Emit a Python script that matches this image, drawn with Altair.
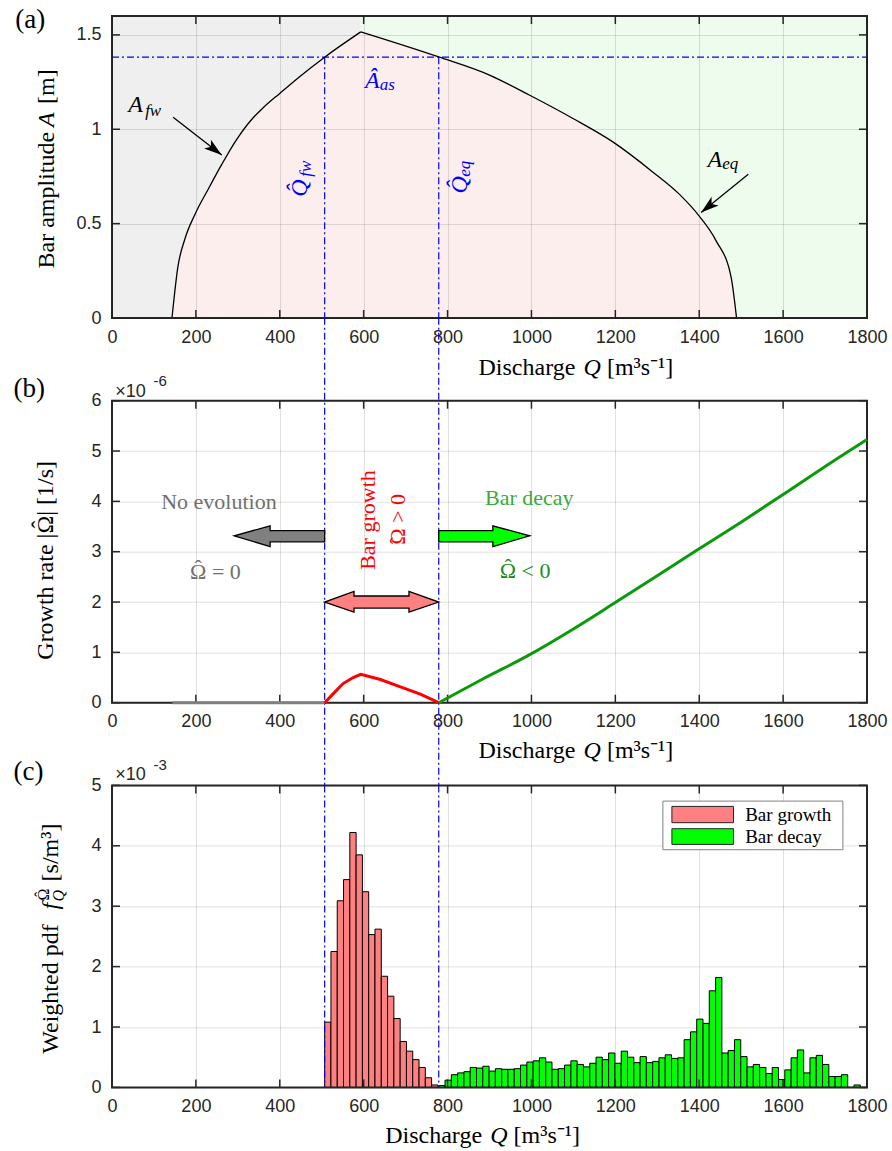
import altair as alt
import pandas as pd

SERIF = "Liberation Serif"
SANS = "Liberation Sans"
DARK = "#262626"
BLUE = "#0000ff"
W, H = 755, 302
XDOM = [0, 1800]
DOM_A = [0, 1.6]
DOM_B = [0, 6]
DOM_C = [0, 5]
HAT = "\u02c6"

# tick positions
q_ticks = [0, 200, 400, 600, 800, 1000, 1200, 1400, 1600, 1800]
amp_ticks = [0, 0.5, 1, 1.5]
rate_ticks = [0, 1, 2, 3, 4, 5, 6]
pdf_ticks = [0, 1, 2, 3, 4, 5]

# characteristic discharges and amplitude
Q_FW = 507
Q_EQ = 779
A_AS = 1.382

# (a) bar amplitude: free-bar branch (rising) and equilibrium branch (falling)
afw_q = [143, 157, 174, 198, 230, 262, 297, 335, 361, 400, 448, 507, 593]
afw_a = [0, 0.27, 0.42, 0.55, 0.685, 0.815, 0.945, 1.057, 1.115, 1.19, 1.28, 1.382, 1.516]
aeq_q = [593, 779, 900, 996, 1099, 1194, 1289, 1353, 1400, 1440, 1476, 1489]
aeq_a = [1.516, 1.383, 1.287, 1.18, 1.057, 0.933, 0.774, 0.655, 0.54, 0.41, 0.217, 0]

# (b) growth rate |Omega| in 1e-6 1/s
none_q = [144, 507]
none_v = [0, 0]
grow_q = [507, 530, 551, 575, 593, 640, 686, 735, 779]
grow_v = [0, 0.2, 0.38, 0.5, 0.565, 0.46, 0.32, 0.17, 0]
decay_q = [779, 885, 996, 1099, 1198, 1297, 1396, 1496, 1599, 1694, 1800]
decay_v = [0, 0.475, 0.955, 1.46, 1.98, 2.506, 3.037, 3.567, 4.13, 4.66, 5.23]

# (c) weighted pdf in 1e-3 s/m3, bins of 15 m3/s
BIN = 15
pdf_growth = [1.08, 2.25, 3.09, 3.44, 4.22, 3.85, 3.24, 2.53, 2.62, 1.84, 1.51, 1.14,
              0.76, 0.60, 0.46, 0.33, 0.16, 0.04]
pdf_decay = [0.03, 0.12, 0.21, 0.24, 0.26, 0.33, 0.32, 0.35, 0.27, 0.31, 0.30, 0.30,
             0.31, 0.37, 0.42, 0.44, 0.49, 0.42, 0.30, 0.31, 0.37, 0.44, 0.38, 0.34,
             0.40, 0.50, 0.46, 0.57, 0.40, 0.60, 0.50, 0.41, 0.51, 0.41, 0.43, 0.49,
             0.54, 0.48, 0.49, 0.79, 0.92, 1.13, 1.06, 1.60, 1.82, 0.57, 0.61, 0.79,
             0.51, 0.34, 0.38, 0.33, 0.23, 0.33, 0.13, 0.29, 0.49, 0.62, 0.24, 0.49,
             0.53, 0.38, 0.18, 0.18, 0.21, 0.0, 0.04]

HEAD = "M0,0L-2,-0.62L-1.5,0L-2,0.62Z"


class Panel:
    """Shared x/y encodings of one sub-plot, so that layers merge into one set of axes."""

    def __init__(self, dom, vticks, z=0):
        self.dom, self.vticks, self.z = dom, vticks, z

    def x(self, field="q"):
        return alt.X(f"{field}:Q", scale=alt.Scale(domain=XDOM, nice=False, zero=False),
                     axis=alt.Axis(values=q_ticks, format="d", title=None, zindex=self.z))

    def y(self, field):
        return alt.Y(f"{field}:Q", scale=alt.Scale(domain=self.dom, nice=False, zero=False),
                     axis=alt.Axis(values=self.vticks, format="~g", title=None, zindex=self.z))

    def text(self, text, q, v, size=24, color="black", style="normal", angle=0,
             align="left", baseline="alphabetic", font=SERIF, dx=0, dy=0):
        df = pd.DataFrame({"t": [text], "q": [q], "v": [v]})
        return alt.Chart(df).mark_text(font=font, fontSize=size, color=color, fontStyle=style,
                                       angle=angle, align=align, baseline=baseline,
                                       dx=dx, dy=dy).encode(x=self.x(), y=self.y("v"), text="t:N")

    def frame(self):
        bt = alt.Chart(pd.DataFrame({"q": q_ticks}))
        lt = alt.Chart(pd.DataFrame({"v": self.vticks}))
        tick = dict(color=DARK, strokeWidth=1.5)
        box = one().mark_rect(fillOpacity=0, stroke=DARK, strokeWidth=2).encode(
            x=alt.value(0), x2=alt.value(W), y=alt.value(0), y2=alt.value(H))
        return [
            bt.mark_rule(**tick).encode(x=self.x(), y=alt.value(H), y2=alt.value(H - 8)),
            bt.mark_rule(**tick).encode(x=self.x(), y=alt.value(0), y2=alt.value(8)),
            lt.mark_rule(**tick).encode(y=self.y("v"), x=alt.value(0), x2=alt.value(8)),
            lt.mark_rule(**tick).encode(y=self.y("v"), x=alt.value(W), x2=alt.value(W - 8)),
            box,
        ]


def one(text=""):
    return alt.Chart(pd.DataFrame({"t": [text]}))


def ptext(text, x, y, size=24, color="black", style="normal", angle=0,
          align="left", baseline="alphabetic", font=SERIF):
    return one(text).mark_text(font=font, fontSize=size, color=color, fontStyle=style,
                               angle=angle, align=align, baseline=baseline).encode(
        x=alt.value(x), y=alt.value(y), text="t:N")


def x_title(x0, y):
    return [ptext("Discharge", x0, y),
            ptext("Q", x0 + 105, y, style="italic"),
            ptext("[m³s⁻¹]", x0 + 128.4, y)]


dash = dict(color=BLUE, strokeWidth=1.2, strokeDash=[7, 3, 2, 3])
SMOOTH = "monotone"

# ---------------- panel (a) ----------------
pa = Panel(DOM_A, amp_ticks, z=1)
gray_df = pd.DataFrame({"q": [0] + afw_q, "lo": [0] + afw_a})
gray_df["hi"] = 1.6
green_df = pd.DataFrame({"q": aeq_q + [1800], "lo": aeq_a + [0]})
green_df["hi"] = 1.6
curve_df = pd.concat([
    pd.DataFrame({"q": afw_q, "a": afw_a, "branch": "fw"}),
    pd.DataFrame({"q": aeq_q, "a": aeq_a, "branch": "eq"}),
], ignore_index=True)
curve_df["zero"] = 0.0

bg_gray = alt.Chart(gray_df).mark_area(color="#efefef", interpolate=SMOOTH).encode(
    x=pa.x(), y=pa.y("lo"), y2="hi")
bg_green = alt.Chart(green_df).mark_area(color="#eefcee", interpolate=SMOOTH).encode(
    x=pa.x(), y=pa.y("lo"), y2="hi")
bg_pink = alt.Chart(curve_df).mark_area(color="#fdeeee", interpolate=SMOOTH).encode(
    x=pa.x(), y=pa.y("a"), y2="zero", detail="branch:N")
curve = alt.Chart(curve_df).mark_line(color="black", strokeWidth=1.3, interpolate=SMOOTH).encode(
    x=pa.x(), y=pa.y("a"), detail="branch:N")

hline = alt.Chart(pd.DataFrame({"q0": [0], "q1": [1800], "a": [A_AS]})).mark_rule(**dash).encode(
    x=pa.x("q0"), x2="q1", y=pa.y("a"))
vlines_a = alt.Chart(pd.DataFrame({"q": [Q_FW, Q_EQ], "top": [A_AS, A_AS], "bot": [0, 0]})).mark_rule(**dash).encode(
    x=pa.x(), y=pa.y("top"), y2="bot")

shaft_df = pd.DataFrame({"arrow": ["fw", "fw", "eq", "eq"],
                         "q": [145.7, 261.6, 1404.5, 1517],
                         "a": [1.064, 0.863, 0.559, 0.761]})
shafts = alt.Chart(shaft_df).mark_line(color="black", strokeWidth=1.3).encode(
    x=pa.x(), y=pa.y("a"), detail="arrow:N")
head_df = pd.DataFrame({"q": [261.6, 1404.5], "a": [0.863, 0.559], "ang": [37.8, 141.0]})
heads = alt.Chart(head_df).mark_point(shape=HEAD, filled=True, color="black", size=324, opacity=1).encode(
    x=pa.x(), y=pa.y("a"), angle=alt.Angle("ang:Q", scale=None))

labels_a = [
    pa.text("A", 38.6, 1.092, style="italic"),
    pa.text("fw", 79, 1.071, size=17, style="italic"),
    pa.text("A", 1419.5, 0.80, style="italic"),
    pa.text("eq", 1455, 0.787, size=17, style="italic"),
    pa.text("Â", 603, 1.216, style="italic", color=BLUE),
    pa.text("as", 638.6, 1.207, size=17, style="italic", color=BLUE),
    pa.text("Q\u0302", 464.8, 0.642, style="italic", color=BLUE, angle=270),
    pa.text("fw", 474.3, 0.748, size=17, style="italic", color=BLUE, angle=270),
    pa.text("Q\u0302", 845.7, 0.66, style="italic", color=BLUE, angle=270),
    pa.text("eq", 852.9, 0.748, size=17, style="italic", color=BLUE, angle=270),
]

titles_a = x_title(366.5, H + 57) + [
    ptext("Bar amplitude", -58.5, 252.5, angle=270),
    ptext("A", -58.5, 111, angle=270, style="italic"),
    ptext("[m]", -58.5, 88, angle=270),
    ptext("(a)", -96.8, 12.3, size=27),
]
anchor = one().mark_rect(color="white").encode(
    x=alt.value(-111.8), x2=alt.value(-104), y=alt.value(-15.7), y2=alt.value(-10))

panel_a = alt.layer(
    bg_gray, bg_green, bg_pink, hline, vlines_a, curve, shafts, heads,
    *labels_a, *titles_a, anchor, *pa.frame()
).properties(width=W, height=H)

# ---------------- panel (b) ----------------
pb = Panel(DOM_B, rate_ticks)
line_none = alt.Chart(pd.DataFrame({"q": none_q, "v": none_v})).mark_line(
    color="#808080", strokeWidth=3).encode(x=pb.x(), y=pb.y("v"))
line_grow = alt.Chart(pd.DataFrame({"q": grow_q, "v": grow_v})).mark_line(
    color="#ff0000", strokeWidth=3).encode(x=pb.x(), y=pb.y("v"))
line_decay = alt.Chart(pd.DataFrame({"q": decay_q, "v": decay_v})).mark_line(
    color="#0a9a0a", strokeWidth=3, interpolate=SMOOTH).encode(x=pb.x(), y=pb.y("v"))

vlines_b = alt.Chart(pd.DataFrame({"q": [Q_FW, Q_EQ]})).mark_rule(**dash).encode(
    x=pb.x(), y=alt.value(-83), y2=alt.value(H + 83))


def block_arrow(q, lo, hi, fill):
    df = pd.DataFrame({"q": q, "lo": lo, "hi": hi})
    return alt.Chart(df).mark_area(fill=fill, stroke="black", strokeWidth=1.3, fillOpacity=1).encode(
        x=pb.x(), y=pb.y("lo"), y2="hi")


arrow_none = block_arrow([291.6, 377, 377.05, 507], [3.315, 3.103, 3.196, 3.196],
                         [3.315, 3.514, 3.42, 3.42], "#808080")
arrow_decay = block_arrow([779, 908, 908.05, 996], [3.196, 3.196, 3.103, 3.315],
                          [3.42, 3.42, 3.514, 3.315], "#00ff00")
arrow_grow = block_arrow([507, 577, 577.05, 708, 708.05, 779], [2.0, 1.80, 1.88, 1.88, 1.80, 2.0],
                         [2.0, 2.21, 2.12, 2.12, 2.21, 2.0], "#ff8080")

GREY_T = "#707070"
labels_b = [
    pb.text("No evolution", 255, 3.84, size=22, color=GREY_T, align="center"),
    pb.text("Ω = 0", 186.2, 2.45, size=22, color=GREY_T),
    pb.text(HAT, 205.7, 2.45, size=22, color=GREY_T, align="center", dy=-4.4),
    pb.text("Bar growth", 626.7, 2.64, size=22, color="#ff0000", angle=270),
    pb.text("Ω > 0", 698, 3.14, size=22, color="#ff0000", angle=270),
    pb.text(HAT, 698, 3.305, size=22, color="#ff0000", angle=270, align="center", dx=-4.4),
    pb.text("Bar decay", 995, 3.92, size=22, color="#3aaa3a", align="center"),
    pb.text("Ω < 0", 924.3, 2.47, size=22, color="#1e8c1e"),
    pb.text(HAT, 944.5, 2.47, size=22, color="#1e8c1e", align="center", dy=-4.4),
]

titles_b = x_title(366.5, H + 55) + [
    ptext("Growth rate |Ω| [1/s]", -59, 259, angle=270),
    ptext(HAT, -63.8, 123.7, angle=270, align="center"),
    ptext("×10", 3.2, -4, size=18, font=SANS, color=DARK),
    ptext("-6", 41.5, -14.3, size=15, font=SANS, color=DARK),
    ptext("(b)", -98.5, -3.5, size=27),
]

panel_b = alt.layer(
    *pb.frame(), vlines_b, line_none, line_grow, line_decay, arrow_none, arrow_decay, arrow_grow,
    *labels_b, *titles_b
).properties(width=W, height=H)

# ---------------- panel (c) ----------------
pc = Panel(DOM_C, pdf_ticks)
rows = []
for i, v in enumerate(pdf_growth):
    rows.append({"q0": Q_FW + i * BIN, "q1": Q_FW + (i + 1) * BIN, "v": v, "kind": "Bar growth"})
for i, v in enumerate(pdf_decay):
    rows.append({"q0": Q_EQ + i * BIN, "q1": Q_EQ + (i + 1) * BIN, "v": v, "kind": "Bar decay"})
bars_df = pd.DataFrame(rows)
bars_df["zero"] = 0.0
kind_scale = alt.Scale(domain=["Bar growth", "Bar decay"], range=["#ff8080", "#00ff00"])

bars = alt.Chart(bars_df).mark_rect(stroke="black", strokeWidth=1, opacity=1).encode(
    x=pc.x("q0"), x2="q1", y=pc.y("v"), y2="zero",
    color=alt.Color("kind:N", scale=kind_scale, legend=None))

vlines_c = alt.Chart(pd.DataFrame({"q": [Q_FW, Q_EQ], "top": [5, 5], "bot": [0, 0]})).mark_rule(**dash).encode(
    x=pc.x(), y=pc.y("top"), y2="bot")

legend = [
    one().mark_rect(fill="white", stroke="#808080", strokeWidth=1).encode(
        x=alt.value(550.9), x2=alt.value(730.9), y=alt.value(15.7), y2=alt.value(64.3)),
    one().mark_rect(fill="#ff8080", stroke=DARK, strokeWidth=1).encode(
        x=alt.value(559.9), x2=alt.value(621.5), y=alt.value(21), y2=alt.value(37.3)),
    one().mark_rect(fill="#00ff00", stroke=DARK, strokeWidth=1).encode(
        x=alt.value(559.9), x2=alt.value(621.5), y=alt.value(43.3), y2=alt.value(59)),
    ptext("Bar growth", 633.2, 29.5, size=19, baseline="middle"),
    ptext("Bar decay", 633.2, 51.5, size=19, baseline="middle"),
]

titles_c = x_title(273.2, H + 56) + [
    ptext("Weighted pdf", -54, 268.3, angle=270),
    ptext("f", -54, 124, angle=270, style="italic"),
    ptext("Ω", -63, 115, size=16, angle=270),
    ptext(HAT, -66.2, 108.9, size=16, angle=270, align="center"),
    ptext("Q", -48, 116, size=16, angle=270, style="italic"),
    ptext("[s/m³]", -54, 96, angle=270),
    ptext("×10", 3.2, -5, size=18, font=SANS, color=DARK),
    ptext("-3", 41.5, -15.3, size=15, font=SANS, color=DARK),
    ptext("(c)", -98.5, -5, size=27),
]

panel_c = alt.layer(
    bars, vlines_c, *legend, *titles_c, *pc.frame()
).properties(width=W, height=H)

chart = alt.vconcat(panel_a, panel_b, panel_c, spacing=82.7, bounds="flush").properties(
    padding=0
).configure_view(stroke=None).configure_axis(
    labelFont=SANS, labelFontSize=18, labelColor=DARK, labelFlush=False, labelOverlap=False,
    ticks=False, domain=False, grid=True, gridColor="black", gridOpacity=0.12, gridWidth=1
).configure_axisX(labelPadding=10).configure_axisY(labelPadding=11)

chart.save("out.html", embed_options={"renderer": "svg", "actions": False})
